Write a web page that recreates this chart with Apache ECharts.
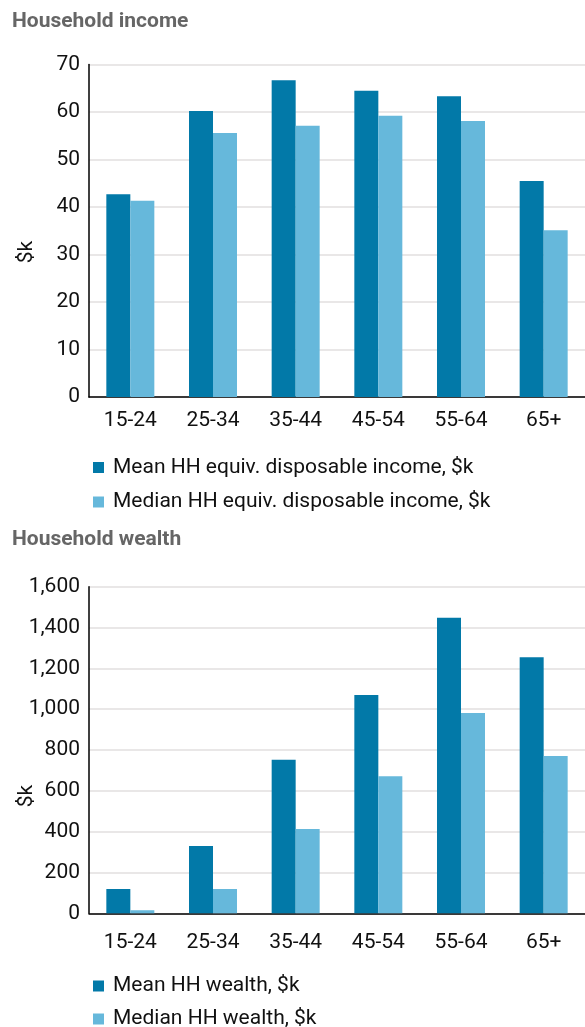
<!DOCTYPE html>
<html>
<head>
<meta charset="utf-8">
<script src="https://cdn.jsdelivr.net/npm/echarts@6/dist/echarts.min.js"></script>
<style>
  html, body { margin: 0; padding: 0; background: #fff; }
  #chart { width: 585px; height: 1027px; }
</style>
</head>
<body>
<div id="chart"></div>
<script>
// age groups
const categories = ['15-24', '25-34', '35-44', '45-54', '55-64', '65+']
// household income, $k
const incomeMean = [42.7, 60.2, 66.7, 64.5, 63.3, 45.5]
const incomeMedian = [41.3, 55.6, 57.1, 59.2, 58.1, 35.1]
// household wealth, $k
const wealthMean = [119, 330, 752, 1069, 1448, 1254]
const wealthMedian = [15, 119, 413, 672, 981, 770]

const DARK = '#0279a8'
const LIGHT = '#66b8db'
const FONT = 'Roboto'
const SIZE = 21

const chart = echarts.init(document.getElementById('chart'))

const axisText = { color: '#111', fontSize: SIZE, fontFamily: FONT }

function valueAxis(gridIndex, max, interval, fmt) {
  return {
    type: 'value',
    gridIndex: gridIndex,
    min: 0,
    max: max,
    interval: interval,
    axisLine: { show: true, lineStyle: { color: '#000', width: 1.5 } },
    axisTick: { show: false },
    splitLine: { lineStyle: { color: '#e2dfdf', width: 1.5 } },
    axisLabel: Object.assign({ margin: 9, formatter: fmt }, axisText)
  }
}

function catAxis(gridIndex, margin) {
  return {
    type: 'category',
    gridIndex: gridIndex,
    data: categories,
    axisLine: { lineStyle: { color: '#000', width: 1.5 } },
    axisTick: { show: false },
    axisLabel: Object.assign({ margin: margin, interval: 0 }, axisText)
  }
}

function bars(name, data, color, idx) {
  return {
    name: name,
    type: 'bar',
    xAxisIndex: idx,
    yAxisIndex: idx,
    data: data,
    barWidth: 24,
    barGap: '0%',
    itemStyle: { color: color },
    emphasis: { disabled: true }
  }
}

// one legend per row so nothing wraps into a second column
function legendRow(name, top) {
  return {
    orient: 'vertical',
    left: 93,
    top: top,
    icon: 'rect',
    itemWidth: 11,
    itemHeight: 11,
    padding: 0,
    textStyle: { color: '#111', fontSize: SIZE, fontFamily: FONT, padding: [0, 0, 0, 4] },
    data: [name]
  }
}

const titleText = { color: '#666', fontSize: SIZE, fontWeight: 'bold', fontFamily: FONT }

chart.setOption({
  animation: false,
  title: [
    { text: 'Household income', left: 12, top: 11, padding: 0, textStyle: titleText },
    { text: 'Household wealth', left: 12, top: 529, padding: 0, textStyle: titleText }
  ],
  legend: [
    legendRow('Mean HH equiv. disposable income, $k', 457),
    legendRow('Median HH equiv. disposable income, $k', 491.5),
    legendRow('Mean HH wealth, $k', 975.5),
    legendRow('Median HH wealth, $k', 1008.5)
  ],
  grid: [
    { left: 89, top: 64.5, width: 498, height: 332.5 },
    { left: 89, top: 586.7, width: 498, height: 326.6 }
  ],
  xAxis: [catAxis(0, 13), catAxis(1, 19)],
  yAxis: [
    valueAxis(0, 70, 10, '{value}'),
    valueAxis(1, 1600, 200, v => v.toLocaleString('en-US'))
  ],
  graphic: [
    { type: 'text', x: 27, y: 252, rotation: Math.PI / 2,
      style: { text: '$k', fill: '#111', font: SIZE + 'px Roboto', align: 'center', verticalAlign: 'middle' } },
    { type: 'text', x: 27, y: 796, rotation: Math.PI / 2,
      style: { text: '$k', fill: '#111', font: SIZE + 'px Roboto', align: 'center', verticalAlign: 'middle' } }
  ],
  series: [
    bars('Mean HH equiv. disposable income, $k', incomeMean, DARK, 0),
    bars('Median HH equiv. disposable income, $k', incomeMedian, LIGHT, 0),
    bars('Mean HH wealth, $k', wealthMean, DARK, 1),
    bars('Median HH wealth, $k', wealthMedian, LIGHT, 1)
  ]
})
</script>
</body>
</html>
